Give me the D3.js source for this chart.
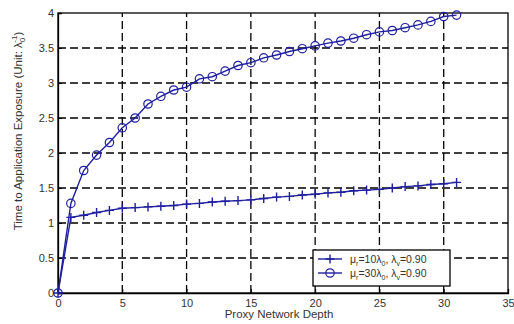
<!DOCTYPE html>
<html>
<head>
<meta charset="utf-8">
<script src="https://cdn.jsdelivr.net/npm/d3@7"></script>
<style>
  body { margin: 0; background: #fff; }
  svg { font-family: "Liberation Sans", Arial, sans-serif; }
</style>
</head>
<body>
<div id="chart"></div>
<script>
// proxy network depth
const depth = d3.range(0, 32);
// mu_r = 10 lambda_0
const plusSeries = [0, 1.08, 1.11, 1.15, 1.18, 1.21, 1.22, 1.23, 1.24, 1.25, 1.27, 1.28, 1.30, 1.31, 1.32, 1.33,
  1.35, 1.37, 1.38, 1.40, 1.41, 1.43, 1.44, 1.46, 1.47, 1.48, 1.50, 1.52, 1.53, 1.55, 1.56, 1.58];
// mu_r = 30 lambda_0
const circleSeries = [0, 1.28, 1.75, 1.97, 2.15, 2.36, 2.50, 2.70, 2.81, 2.90, 2.94, 3.06, 3.09, 3.17, 3.25, 3.29,
  3.36, 3.40, 3.45, 3.49, 3.53, 3.57, 3.60, 3.64, 3.69, 3.73, 3.75, 3.79, 3.83, 3.88, 3.95, 3.97];
const xTicks = [0, 5, 10, 15, 20, 25, 30, 35];
const yTicks = [0, 0.5, 1, 1.5, 2, 2.5, 3, 3.5, 4];

const width = 514, height = 324;
const margin = {top: 13, right: 6, bottom: 31, left: 58};
const blue = "#1f1fa0";

const svg = d3.select("#chart").append("svg")
  .attr("width", width)
  .attr("height", height);

const x = d3.scaleLinear().domain([0, 35]).range([margin.left, width - margin.right]);
const y = d3.scaleLinear().domain([0, 4]).range([height - margin.bottom, margin.top]);

// dashed grid
svg.append("g").selectAll("line")
  .data(xTicks.slice(1, -1))
  .join("line")
  .attr("x1", d => x(d)).attr("x2", d => x(d))
  .attr("y1", y(0)).attr("y2", y(4))
  .attr("stroke", "#000").attr("stroke-width", 1.3)
  .attr("stroke-dasharray", "8,4");

svg.append("g").selectAll("line")
  .data(yTicks.slice(1, -1))
  .join("line")
  .attr("x1", x(0)).attr("x2", x(35))
  .attr("y1", d => y(d)).attr("y2", d => y(d))
  .attr("stroke", "#000").attr("stroke-width", 1.3)
  .attr("stroke-dasharray", "8,4");

// axes
const xAxis = svg.append("g")
  .attr("transform", `translate(0,${y(0)})`)
  .call(d3.axisBottom(x).tickValues(xTicks).tickSize(-4).tickPadding(6));
const yAxis = svg.append("g")
  .attr("transform", `translate(${x(0)},0)`)
  .call(d3.axisLeft(y).tickValues(yTicks).tickSize(-4).tickPadding(4).tickFormat(d3.format("")));
[xAxis, yAxis].forEach(a => {
  a.select(".domain").attr("stroke", "#000").attr("stroke-width", 1.3);
  a.selectAll("text").attr("font-size", 11).attr("fill", "#333");
});

// frame
svg.append("rect")
  .attr("x", x(0)).attr("y", y(4))
  .attr("width", x(35) - x(0)).attr("height", y(0) - y(4))
  .attr("fill", "none").attr("stroke", "#000").attr("stroke-width", 1.3);

const line = d3.line().x((d, i) => x(depth[i])).y(d => y(d));

svg.append("path").datum(plusSeries)
  .attr("d", line).attr("fill", "none").attr("stroke", blue).attr("stroke-width", 1.4);
svg.append("path").datum(circleSeries)
  .attr("d", line).attr("fill", "none").attr("stroke", blue).attr("stroke-width", 1.4);

svg.append("g").selectAll("path")
  .data(plusSeries)
  .join("path")
  .attr("d", (d, i) => `M${x(depth[i]) - 4.5},${y(d)}h9M${x(depth[i])},${y(d) - 4.5}v9`)
  .attr("stroke", blue).attr("stroke-width", 1.4);

svg.append("g").selectAll("circle")
  .data(circleSeries)
  .join("circle")
  .attr("cx", (d, i) => x(depth[i]))
  .attr("cy", d => y(d))
  .attr("r", 4.2)
  .attr("fill", "none").attr("stroke", blue).attr("stroke-width", 1.2);

// axis labels
svg.append("text")
  .attr("x", (x(0) + x(35)) / 2 - 4)
  .attr("y", 318)
  .attr("text-anchor", "middle")
  .attr("font-size", 11.5)
  .attr("fill", "#333")
  .text("Proxy Network Depth");

const yl = svg.append("text")
  .attr("transform", "translate(22,131) rotate(-90)")
  .attr("text-anchor", "middle")
  .attr("font-size", 11.5)
  .attr("fill", "#333");
yl.append("tspan").text("Time to Application Exposure (Unit: λ");
yl.append("tspan").attr("font-size", 8).attr("dy", 3).text("0");
yl.append("tspan").attr("font-size", 8).attr("dx", -5).attr("dy", -8).text("-1");
yl.append("tspan").attr("dy", 5).text(")");

// legend
const legend = svg.append("g");
legend.append("rect")
  .attr("x", 313).attr("y", 250).attr("width", 137).attr("height", 36)
  .attr("fill", "#fff").attr("stroke", "#000").attr("stroke-width", 1.3);

const legendItems = [
  {mu: "10", marker: "plus"},
  {mu: "30", marker: "circle"}
];
legendItems.forEach((d, i) => {
  const ly = 259 + i * 14;
  legend.append("line")
    .attr("x1", 318).attr("x2", 342).attr("y1", ly).attr("y2", ly)
    .attr("stroke", blue).attr("stroke-width", 1.4);
  if (d.marker === "plus") {
    legend.append("path").attr("d", `M325.5,${ly}h9M330,${ly - 4.5}v9`)
      .attr("stroke", blue).attr("stroke-width", 1.4);
  } else {
    legend.append("circle").attr("cx", 330).attr("cy", ly).attr("r", 4.2)
      .attr("fill", "none").attr("stroke", blue).attr("stroke-width", 1.2);
  }
  const t = legend.append("text").attr("x", 350).attr("y", ly + 3.5)
    .attr("font-size", 10.5).attr("fill", "#333");
  t.append("tspan").text("μ");
  t.append("tspan").attr("font-size", 7).attr("dy", 3).text("r");
  t.append("tspan").attr("dy", -3).text("=" + d.mu + "λ");
  t.append("tspan").attr("font-size", 7).attr("dy", 3).text("0");
  t.append("tspan").attr("dy", -3).text(", λ");
  t.append("tspan").attr("font-size", 7).attr("dy", 3).text("v");
  t.append("tspan").attr("dy", -3).text("=0.90");
});
</script>
</body>
</html>
